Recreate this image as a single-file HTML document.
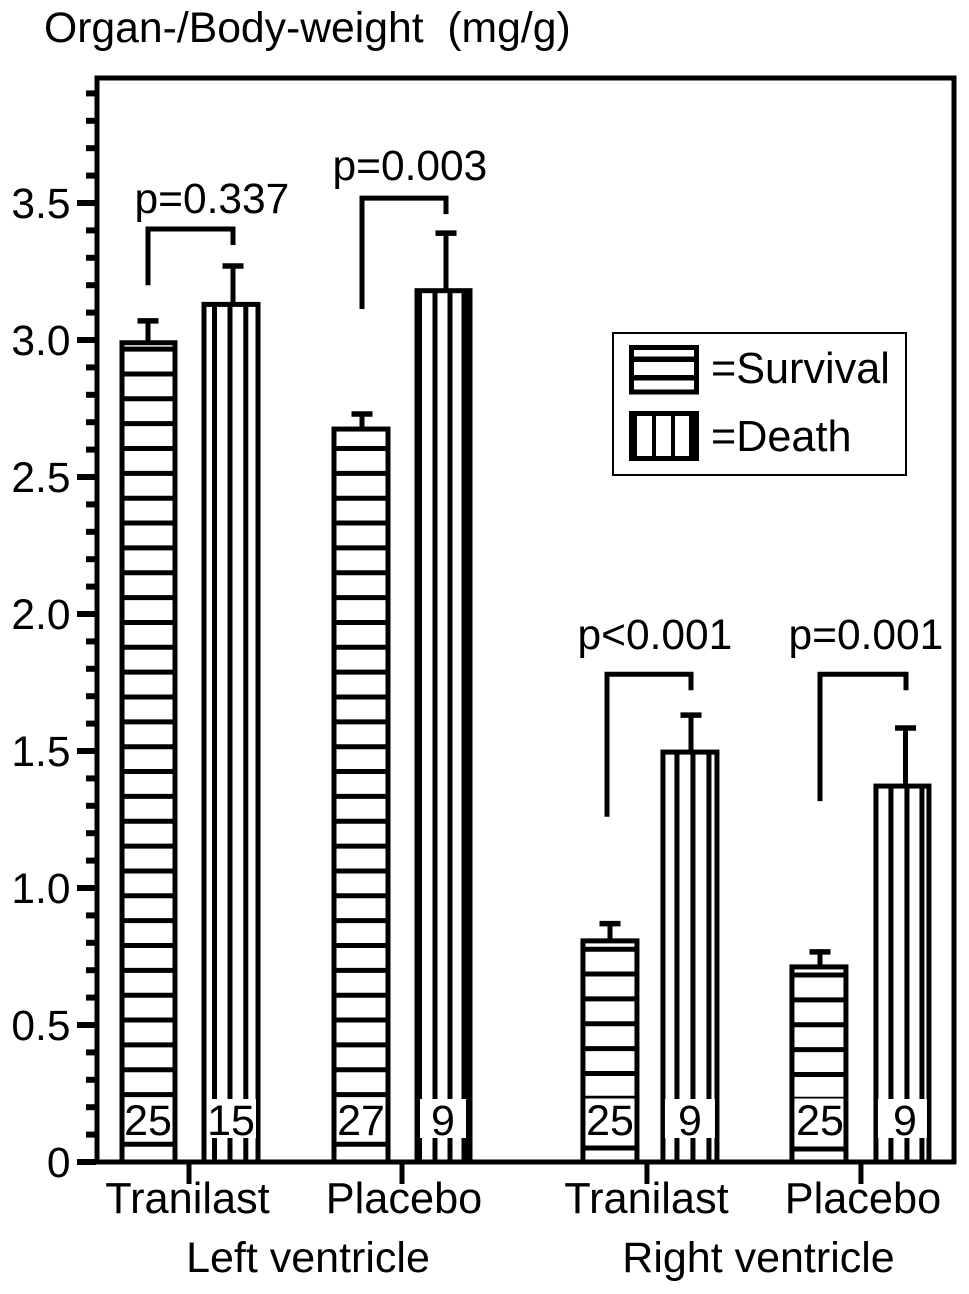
<!DOCTYPE html>
<html lang="en">
<head>
<meta charset="utf-8">
<title>Organ-/Body-weight chart</title>
<style>
html,body{margin:0;padding:0;background:#fff;}
svg{display:block;}
text{font-family:"Liberation Sans",Arial,sans-serif;fill:#000;white-space:pre;}
</style>
</head>
<body>
<svg id="chart" xmlns="http://www.w3.org/2000/svg" width="969" height="1294" viewBox="0 0 969 1294">
  <rect x="0" y="0" width="969" height="1294" fill="#fff"/>
  <text x="44" y="42" font-size="42.7" xml:space="preserve">Organ-/Body-weight  (mg/g)</text>
  <g id="plot"></g>
  <g id="legend">
    <rect x="613" y="333" width="293" height="142" fill="#fff" stroke="#000" stroke-width="2"/>
    <g>
      <rect x="631.5" y="347.5" width="65" height="44.5" fill="#fff" stroke="#000" stroke-width="5"/>
      <rect x="631" y="356.5" width="66" height="5.5" fill="#000"/>
      <rect x="631" y="375" width="66" height="5.5" fill="#000"/>
    </g>
    <text x="711" y="383" font-size="43.2">=Survival</text>
    <g>
      <rect x="631.5" y="413.5" width="65" height="45" fill="#fff" stroke="#000" stroke-width="5"/>
      <rect x="629" y="411" width="8" height="50" fill="#000"/>
      <rect x="689" y="411" width="9" height="50" fill="#000"/>
      <rect x="652" y="411" width="4" height="50" fill="#000"/>
      <rect x="671" y="411" width="4" height="50" fill="#000"/>
    </g>
    <text x="711" y="451" font-size="43.2">=Death</text>
  </g>
</svg>
<script>
const categories = ["Tranilast", "Placebo", "Tranilast", "Placebo"];
const groupLabels = ["Left ventricle", "Right ventricle"];
const survivalValues = [2.99, 2.675, 0.807, 0.712];
const survivalErrors = [0.08, 0.055, 0.063, 0.055];
const deathValues = [3.13, 3.18, 1.496, 1.372];
const deathErrors = [0.14, 0.21, 0.135, 0.212];
const survivalCounts = ["25", "27", "25", "25"];
const deathCounts = ["15", "9", "9", "9"];
const pLabels = ["p=0.337", "p=0.003", "p<0.001", "p=0.001"];
const bracketTops = [3.405, 3.518, 1.78, 1.78];
const bracketBottoms = [3.2, 3.113, 1.26, 1.317];
const yMajorTicks = [0, 0.5, 1.0, 1.5, 2.0, 2.5, 3.0, 3.5];
const yMajorLabels = ["0", "0.5", "1.0", "1.5", "2.0", "2.5", "3.0", "3.5"];
const yMinorTicks = [0.1, 0.2, 0.3, 0.4, 0.6, 0.7, 0.8, 0.9, 1.1, 1.2, 1.3, 1.4, 1.6, 1.7, 1.8, 1.9, 2.1, 2.2, 2.3, 2.4, 2.6, 2.7, 2.8, 2.9, 3.1, 3.2, 3.3, 3.4, 3.6, 3.7, 3.8, 3.9];

const NS = "http://www.w3.org/2000/svg";
const plot = document.getElementById("plot");
const BASE = 1162;

function yScale(v) { return BASE - v * 274; }
function xScale(i) { return 189 + (i < 2 ? i : i + 0.15) * 213 + (i === 3 ? 1 : 0); }

function mk(tag, attrs, parent) {
  const el = document.createElementNS(NS, tag);
  for (const k in attrs) el.setAttribute(k, attrs[k]);
  (parent || plot).appendChild(el);
  return el;
}
function seg(x1, y1, x2, y2, w, parent) {
  return mk("line", { x1: x1, y1: y1, x2: x2, y2: y2, stroke: "#000", "stroke-width": w }, parent);
}

function drawAxes() {
  const frame = mk("path", { d: "M97 " + BASE + " V78 H954 V" + (BASE + 2), fill: "none", stroke: "#000", "stroke-width": 5 });
  
  
  const xAxis = seg(77, BASE, 956, BASE, 5);
  
  

  yMinorTicks.forEach(function (v) {
    const t = seg(86, yScale(v), 96, yScale(v), 6);
    
    
  });
  yMajorTicks.forEach(function (v, i) {
    const t = seg(77, yScale(v), 96, yScale(v), 6);
    
    
    const label = mk("text", { x: 70.5, y: yScale(v) + 15, "font-size": 42.5, "text-anchor": "end" });
    label.textContent = yMajorLabels[i];
    
    
  });
  const labelNudge = [-1.5, 2, -0.5, 2];
  categories.forEach(function (c, i) {
    const t = seg(xScale(i), BASE, xScale(i), 1184, 5);
    
    
    const label = mk("text", { x: xScale(i) + labelNudge[i], y: 1213, "font-size": 43.3, "text-anchor": "middle" });
    label.textContent = c;
    
    
  });
  const groupCenter = [308, 758.5];
  groupLabels.forEach(function (g, i) {
    const label = mk("text", { x: groupCenter[i], y: 1272, "font-size": 43, "text-anchor": "middle" });
    label.textContent = g;
    
    
  });
}

function drawError(cx, value, err) {
  const stem = seg(cx, yScale(value), cx, yScale(value + err), 5);
  
  
  const cap = seg(cx - 10.5, yScale(value + err), cx + 10.5, yScale(value + err), 5.5);
  
  
}

function drawSurvivalBars() {
  const leftOff = [-67, -68, -64, -69];
  const widths = [53, 54, 54, 54];
  const firstLine = [17.7, 17.7, 14, 13];
  const errX = [148, 362, 610, 820];
  const countX = [148, 361, 610, 820];
  survivalValues.forEach(function (v, i) {
    const x = xScale(i) + leftOff[i], w = widths[i], top = yScale(v);
    drawError(errX[i], v, survivalErrors[i]);
    const g = mk("g", {});
    
    
    mk("rect", { x: x, y: top, width: w, height: BASE - top, fill: "#fff", stroke: "#000", "stroke-width": 5 }, g);
    for (let y = BASE - firstLine[i]; y > top + 4; y -= 24.85) {
      seg(x, y, x + w, y, 5, g);
    }
    const boxBottom = i < 2 ? 1141.5 : 1145.5;
    mk("rect", { x: x + 2.5, y: 1098.5, width: w - 5, height: boxBottom - 1098.5, fill: "#fff" }, g);
    const n = mk("text", { x: countX[i], y: 1135, "font-size": 43, "text-anchor": "middle" });
    n.textContent = survivalCounts[i];
    
    
  });
}

function drawDeathBars() {
  const leftOff = [15, 15, 16, 15];
  const widths = [54, 53, 54, 53];
  const hatches = [[10.5, 26, 41.8], [3, 18, 33, 49], [14, 30, 46], [15, 31, 46]];
  const errX = [233, 446, 691, 905.5];
  const countX = [231, 443, 690, 905];
  const boxLeft = [3, 3, 2, 2];
  const boxRight = [2, 4, 2, 2];
  deathValues.forEach(function (v, i) {
    const x = xScale(i) + leftOff[i], w = widths[i], top = yScale(v);
    drawError(errX[i], v, deathErrors[i]);
    const g = mk("g", {});
    
    
    mk("rect", { x: x, y: top, width: w, height: BASE - top, fill: "#fff", stroke: "#000", "stroke-width": 5 }, g);
    hatches[i].forEach(function (off, j) {
      const thick = i === 1 && (j === 0 || j === 3) ? (j === 0 ? 4 : 9) : 5;
      seg(x + off, top, x + off, BASE, thick, g);
    });
    mk("rect", { x: x + boxLeft[i], y: 1099, width: w - boxLeft[i] - boxRight[i], height: 39, fill: "#fff" }, g);
    const n = mk("text", { x: countX[i], y: 1135, "font-size": 43, "text-anchor": "middle" });
    n.textContent = deathCounts[i];
    
    
  });
}

function drawBrackets() {
  const leftX = [148, 362, 607, 820];
  const rightX = [233, 446, 691, 906];
  const textX = [134.5, 332.5, 577.5, 788.5];
  const textY = [213, 180, 649, 649];
  pLabels.forEach(function (p, i) {
    const top = yScale(bracketTops[i]);
    const b = mk("path", {
      d: "M" + leftX[i] + " " + yScale(bracketBottoms[i]) + " V" + top + " H" + rightX[i] + " V" + (top + 16),
      fill: "none", stroke: "#000", "stroke-width": 5
    });
    
    
    const t = mk("text", { x: textX[i], y: textY[i], "font-size": 42.5 });
    t.textContent = p;
    
    
  });
}

drawSurvivalBars();
drawDeathBars();
drawBrackets();
drawAxes();
</script>
</body>
</html>
